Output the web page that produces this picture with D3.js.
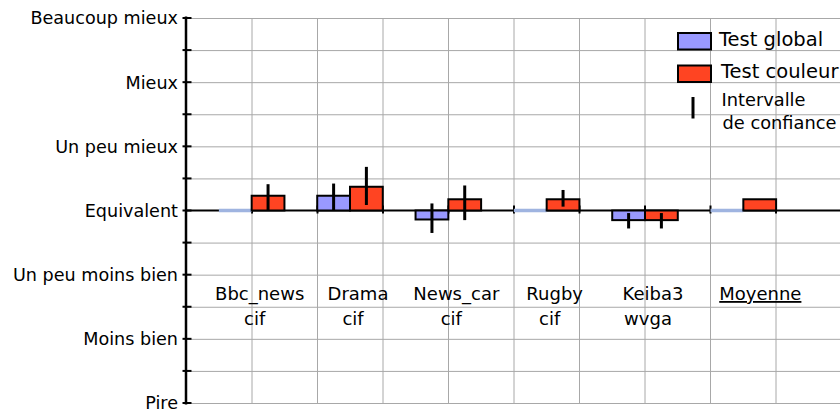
<!DOCTYPE html>
<html>
<head>
<meta charset="utf-8">
<script src="https://cdn.jsdelivr.net/npm/d3@7"></script>
<style>
  html, body { margin: 0; padding: 0; background: #ffffff; }
  svg { display: block; font-family: "DejaVu Sans", Verdana, sans-serif; }
</style>
</head>
<body>
<svg id="chart" width="840" height="412"></svg>
<script>
// ---- data ----
const categories = ["Bbc_news", "Drama", "News_car", "Rugby", "Keiba3", "Moyenne"];
const formats = ["cif", "cif", "cif", "cif", "wvga", ""];
const globalValues = [0, 0.23, -0.14, 0, -0.15, 0];
const colorValues = [0.23, 0.37, 0.175, 0.175, -0.15, 0.175];
const globalCI = [null, [0, 0.42], [-0.35, 0.11], null, [-0.28, -0.04], null];
const colorCI = [[0, 0.41], [0.086, 0.68], [-0.15, 0.39], [0.06, 0.32], [-0.28, -0.04], null];
const yTickValues = [-3, -2, -1, 0, 1, 2, 3];
const yTickLabels = ["Pire", "Moins bien", "Un peu moins bien", "Equivalent", "Un peu mieux", "Mieux", "Beaucoup mieux"];
const seriesNames = ["Test global", "Test couleur"];
const ciLegend = ["Intervalle", "de confiance"];

// ---- styles ----
const BLUE = "#9999ff", RED = "#ff4422", ZERO_BLUE = "#9fb4e0", GRID = "#a8a8a8";

const svg = d3.select("#chart");

const y = d3.scaleLinear().domain([-3, 3]).range([403, 18]);
const xGrid = d3.scaleLinear().domain([0, 10]).range([186, 841]);
const x = d3.scaleBand().domain(categories).range([202.5, 792.5]).paddingInner(0).paddingOuter(0);
const bw = x.bandwidth() / 3;
const cx = c => x(c) + x.bandwidth() / 2;

// horizontal gridlines every half unit
const halfTicks = d3.range(-6, 7).map(d => d / 2);
svg.append("g").selectAll("line").data(halfTicks.filter(d => d !== 0)).join("line")
  .attr("x1", 186).attr("x2", 840)
  .attr("y1", d => y(d) + 0.5).attr("y2", d => y(d) + 0.5)
  .attr("stroke", GRID).attr("stroke-width", 1);

// vertical gridlines
const vTicks = d3.range(1, 11);
svg.append("g").selectAll("line").data(vTicks).join("line")
  .attr("x1", d => xGrid(d) + 0.5).attr("x2", d => xGrid(d) + 0.5)
  .attr("y1", y(3)).attr("y2", y(-3))
  .attr("stroke", GRID).attr("stroke-width", 1);

// zero axis line
svg.append("line").attr("x1", 186).attr("x2", 840)
  .attr("y1", y(0)).attr("y2", y(0))
  .attr("stroke", "#000").attr("stroke-width", 2);
// x ticks on zero line
svg.append("g").selectAll("line").data(vTicks).join("line")
  .attr("x1", d => xGrid(d) + 0.5).attr("x2", d => xGrid(d) + 0.5)
  .attr("y1", y(0) - 5).attr("y2", y(0) + 3)
  .attr("stroke", "#000").attr("stroke-width", 2);

// y axis
const yAxisG = svg.append("g").attr("transform", "translate(186,0)");
yAxisG.append("line").attr("x1", 0).attr("x2", 0).attr("y1", y(3) - 1.5).attr("y2", y(-3) + 1.5)
  .attr("stroke", "#000").attr("stroke-width", 2.5);
yAxisG.selectAll("line.tick").data(halfTicks).join("line").attr("class", "tick")
  .attr("x1", -3.5).attr("x2", 5.5)
  .attr("y1", d => y(d)).attr("y2", d => y(d))
  .attr("stroke", "#000").attr("stroke-width", 2);
yAxisG.selectAll("text").data(yTickValues).join("text")
  .attr("x", -8).attr("y", d => y(d)).attr("dy", "0.36em")
  .attr("text-anchor", "end").attr("font-size", 17.6).attr("fill", "#000")
  .text((d, i) => yTickLabels[i]);

// bars
function drawSeries(values, side, color) {
  const g = svg.append("g");
  values.forEach((v, i) => {
    const x0 = cx(categories[i]) + (side < 0 ? -bw : 0);
    if (v === 0) {
      g.append("line").attr("x1", x0).attr("x2", x0 + bw)
        .attr("y1", y(0)).attr("y2", y(0))
        .attr("stroke", ZERO_BLUE).attr("stroke-width", 3.5);
    } else {
      g.append("rect").attr("x", x0).attr("width", bw)
        .attr("y", Math.min(y(v), y(0))).attr("height", Math.abs(y(v) - y(0)))
        .attr("fill", color).attr("stroke", "#000").attr("stroke-width", 2);
    }
  });
}
drawSeries(globalValues, -1, BLUE);
drawSeries(colorValues, 1, RED);

// error bars
function drawCI(ci, side) {
  svg.append("g").selectAll("line").data(ci.map((d, i) => ({ d, i })).filter(o => o.d)).join("line")
    .attr("x1", o => cx(categories[o.i]) + side * bw / 2)
    .attr("x2", o => cx(categories[o.i]) + side * bw / 2)
    .attr("y1", o => y(o.d[1])).attr("y2", o => y(o.d[0]))
    .attr("stroke", "#000").attr("stroke-width", 3);
}
drawCI(globalCI, -1);
drawCI(colorCI, 1);

// category labels
const lab = svg.append("g").attr("font-size", 18).attr("fill", "#000").attr("text-anchor", "middle");
lab.selectAll("text.name").data(categories).join("text").attr("class", "name")
  .attr("x", (d, i) => cx(d) + (i === categories.length - 1 ? 17 : 8)).attr("y", 300)
  .attr("text-decoration", (d, i) => i === categories.length - 1 ? "underline" : null)
  .text(d => d);
lab.selectAll("text.fmt").data(formats).join("text").attr("class", "fmt")
  .attr("x", (d, i) => cx(categories[i]) + 3).attr("y", 325)
  .text(d => d);

// legend
const leg = svg.append("g");
const legColors = [BLUE, RED];
seriesNames.forEach((s, i) => {
  leg.append("rect").attr("x", 678).attr("y", 33 + i * 32.5).attr("width", 33).attr("height", 16.5)
    .attr("fill", legColors[i]).attr("stroke", "#000").attr("stroke-width", 2);
  leg.append("text").attr("x", 719 + i * 2).attr("y", 46 + i * 31.5)
    .attr("font-size", 19.5).attr("fill", "#000").text(s);
});
leg.append("line").attr("x1", 693).attr("x2", 693).attr("y1", 97).attr("y2", 118.5)
  .attr("stroke", "#000").attr("stroke-width", 3);
ciLegend.forEach((t, i) => {
  leg.append("text").attr("x", 721.5 + i * 1).attr("y", 106 + i * 22.5)
    .attr("font-size", 17.8).attr("fill", "#000").text(t);
});
</script>
</body>
</html>
